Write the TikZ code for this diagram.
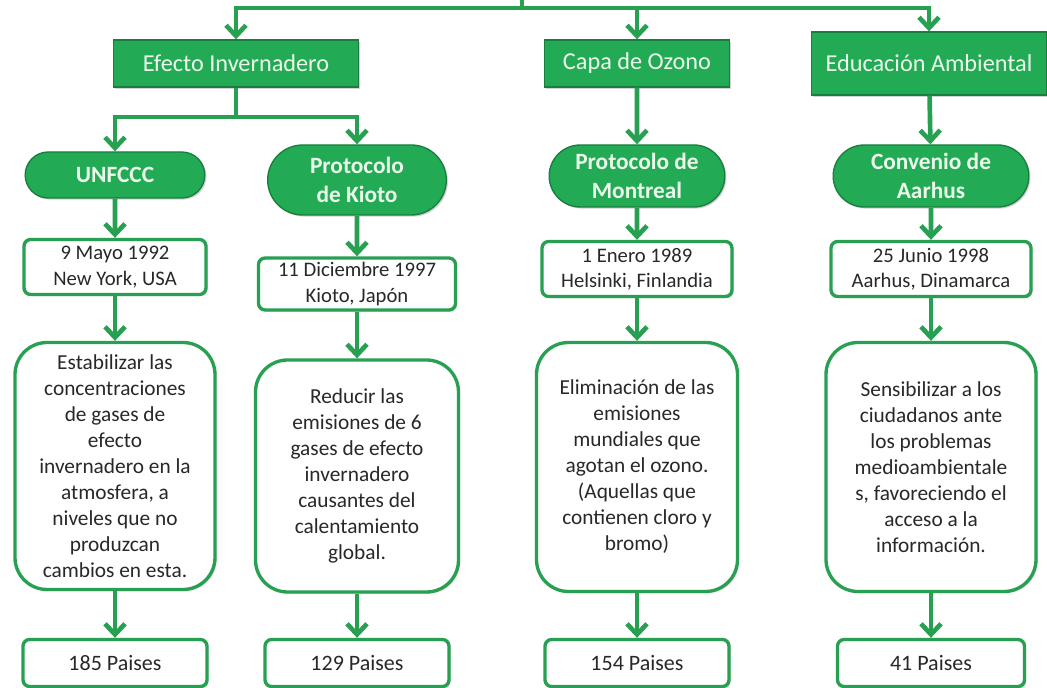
\documentclass[tikz,border=0pt]{standalone}
\usepackage{fontspec}
\setmainfont{Carlito}
\usepackage{tikz}
\usetikzlibrary{arrows.meta,shapes.misc,shadows}

\definecolor{verde}{RGB}{34,170,84}
\definecolor{verdeosc}{RGB}{24,126,62}
\definecolor{verdelinea}{RGB}{40,160,82}
\definecolor{textoclaro}{RGB}{236,250,236}
\definecolor{textogris}{RGB}{40,40,40}

\begin{document}
\begin{tikzpicture}[x=0.75pt,y=0.75pt,yscale=-1,xscale=1,
        linea/.style={draw=verdelinea, line width=3.5pt},
        flecha/.style={linea, -{Straight Barb[length=8pt,width=15pt]}},
        sombra/.style={drop shadow={shadow xshift=1.2pt,shadow yshift=-1.2pt,opacity=0.35}},
        tema/.style={rectangle, fill=verde, draw=verdeosc, line width=1pt, sombra, text=textoclaro, font=\fontsize{18.2}{21}\selectfont, inner sep=2pt},
        tratado/.style={rounded rectangle, fill=verde, draw=verdeosc, line width=1pt, sombra, text=textoclaro, font=\bfseries\fontsize{17.5}{22}\selectfont, align=center, inner sep=2pt},
        dato/.style={rectangle, rounded corners=5pt, fill=white, draw=verdelinea, line width=2.5pt, sombra, text=textogris, font=\fontsize{15.5}{19}\selectfont, align=center, inner sep=2pt},
        meta/.style={dato, rounded corners=24pt, font=\fontsize{16}{19.5}\selectfont},
        cifra/.style={dato, font=\fontsize{16.5}{19}\selectfont, minimum width=138pt, minimum height=35.25pt}]
        \useasboundingbox (0,0) rectangle (1047,688);

        %Shape: Rectangle (temas)
        \draw (236,63.5) node [tema, minimum width=183.75pt, minimum height=35.25pt] (hEfecto) {Efecto Invernadero};
        \draw (637,63.5) node [tema, minimum width=138.75pt, minimum height=35.25pt] (hOzono) {Capa de Ozono};
        \draw (929,63.5) node [tema, minimum width=176.25pt, minimum height=47.25pt] (hEducacion) {Educación Ambiental};

        %Shape: Rounded Rectangle (tratados)
        \draw (115,175) node [tratado, minimum width=138.75pt, minimum height=34.5pt] (pUNFCCC) {UNFCCC};
        \draw (357,180) node [tratado, minimum width=138pt, minimum height=52.5pt] (pKioto) {Protocolo\\de Kioto};
        \draw (637,176) node [tratado, minimum width=135.75pt, minimum height=46.5pt] (pMontreal) {Protocolo de\\Montreal};
        \draw (931,176) node [tratado, minimum width=150.75pt, minimum height=46.5pt] (pAarhus) {Convenio de\\Aarhus};

        % Text Node (fechas)
        \draw (115,267) node [dato, minimum width=136.5pt, minimum height=41.25pt] (dUNFCCC) {9 Mayo 1992\\New York, USA};
        \draw (357,284) node [dato, minimum width=147.75pt, minimum height=39pt] (dKioto) {11 Diciembre 1997\\Kioto, Japón};
        \draw (637,269) node [dato, minimum width=142.5pt, minimum height=41.25pt] (dMontreal) {1 Enero 1989\\Helsinki, Finlandia};
        \draw (931,269) node [dato, minimum width=150pt, minimum height=41.25pt] (dAarhus) {25 Junio 1998\\Aarhus, Dinamarca};

        % Text Node (objetivos)
        \draw (115,466) node [meta, minimum width=150pt, minimum height=185.25pt] (gUNFCCC) {Estabilizar las\\concentraciones\\de gases de\\efecto\\invernadero en la\\atmosfera, a\\niveles que no\\produzcan\\cambios en esta.};
        \draw (357,476) node [meta, minimum width=152.25pt, minimum height=174pt] (gKioto) {Reducir las\\emisiones de 6\\gases de efecto\\invernadero\\causantes del\\calentamiento\\global.};
        \draw (637,467) node [meta, minimum width=150.75pt, minimum height=186.75pt] (gMontreal) {Eliminación de las\\emisiones\\mundiales que\\agotan el ozono.\\(Aquellas que\\contienen cloro y\\bromo)};
        \draw (931,467) node [meta, minimum width=157.5pt, minimum height=186.75pt] (gAarhus) {Sensibilizar a los\\ciudadanos ante\\los problemas\\medioambientale\\s, favoreciendo el\\acceso a la\\información.};

        % Text Node (paises)
        \draw (115,663) node [cifra] (cUNFCCC) {185 Paises};
        \draw (357,663) node [cifra] (cKioto) {129 Paises};
        \draw (637,663) node [cifra] (cMontreal) {154 Paises};
        \draw (931,663) node [cifra, minimum width=140.25pt] (cAarhus) {41 Paises};

        %Straight Lines (arriba)
        \coordinate (raiz) at (522,0);
        \coordinate (bus) at (522,8);
        \draw [linea] (raiz) -- (bus);
        \draw [flecha] (bus) -| (hEfecto.north);
        \draw [flecha] (bus) -| (hOzono.north);
        \draw [flecha] (bus) -| (hEducacion.north);

        %Straight Lines (efecto invernadero)
        \coordinate (rama) at (236,117);
        \draw [linea] (hEfecto.south) -- (rama);
        \draw [flecha] (rama) -| (pUNFCCC.north);
        \draw [flecha] (rama) -| (pKioto.north);
        \draw [flecha] (hOzono) -- (pMontreal);
        \draw [flecha] (hEducacion) -- (pAarhus);

        %Straight Lines (columnas)
        \draw [flecha] (pUNFCCC) -- (dUNFCCC);
        \draw [flecha] (dUNFCCC) -- (gUNFCCC);
        \draw [flecha] (gUNFCCC) -- (cUNFCCC);
        \draw [flecha] (pKioto) -- (dKioto);
        \draw [flecha] (dKioto) -- (gKioto);
        \draw [flecha] (gKioto) -- (cKioto);
        \draw [flecha] (pMontreal) -- (dMontreal);
        \draw [flecha] (dMontreal) -- (gMontreal);
        \draw [flecha] (gMontreal) -- (cMontreal);
        \draw [flecha] (pAarhus) -- (dAarhus);
        \draw [flecha] (dAarhus) -- (gAarhus);
        \draw [flecha] (gAarhus) -- (cAarhus);

\end{tikzpicture}
\end{document}
